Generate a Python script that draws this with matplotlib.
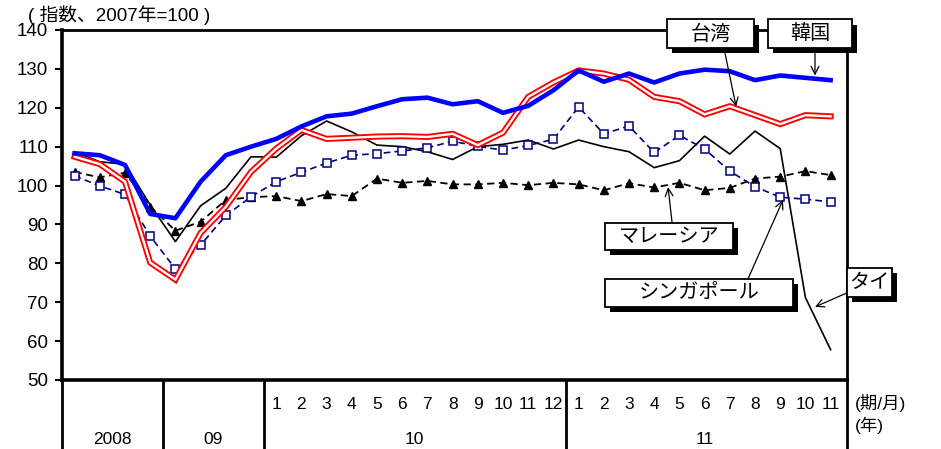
import matplotlib.pyplot as plt
import matplotlib.patches as mpatches

plt.rcParams['font.family'] = ['Liberation Sans', 'Noto Sans CJK JP']

# x positions: 2008 Q1-Q4, 2009 Q1-Q4, 2010 months 1-12, 2011 months 1-11
month_labels = [str(m) for m in range(1, 13)] + [str(m) for m in range(1, 12)]
year_labels = ['2008', '09', '10', '11']

korea = [108.3, 107.8, 105.3, 92.7, 91.6, 101.0, 107.8, 110.0,
         112.0, 115.2, 117.8, 118.5, 120.4, 122.2, 122.6, 120.9, 121.7, 118.7, 120.5, 124.5,
         129.6, 126.7, 128.8, 126.5, 128.8, 129.8, 129.4, 127.1, 128.3, 127.7, 127.1]
taiwan = [107.4, 105.5, 101.0, 80.2, 75.8, 87.8, 94.5, 103.5,
          109.5, 114.3, 112.0, 112.3, 112.6, 112.7, 112.5, 113.3, 110.4, 113.6, 122.8, 126.5,
          129.6, 128.8, 127.2, 122.8, 121.7, 118.3, 120.4, 118.1, 115.8, 118.1, 117.8]
thailand = [108.7, 106.1, 105.5, 95.0, 85.6, 94.8, 99.3, 107.4,
            107.3, 112.8, 116.6, 113.8, 110.4, 110.0, 108.7, 106.7, 110.0, 110.6, 111.7, 109.4,
            111.7, 110.0, 108.7, 104.6, 106.4, 112.7, 108.1, 114.0, 109.5, 71.2, 57.8]
malaysia = [103.5, 102.1, 103.3, 94.6, 88.4, 90.7, 96.3, 97.0,
            97.3, 96.0, 97.8, 97.3, 101.8, 100.7, 101.2, 100.3, 100.3, 100.7, 100.1, 100.7,
            100.3, 98.8, 100.6, 99.5, 100.7, 98.8, 99.4, 101.8, 102.3, 103.7, 102.7]
singapore = [102.5, 99.9, 97.7, 87.0, 78.6, 84.7, 92.3, 97.1,
             101.0, 103.4, 105.8, 107.8, 108.2, 108.9, 109.7, 111.4, 110.1, 109.1, 110.3, 111.9,
             120.2, 113.3, 115.3, 108.5, 112.9, 109.4, 103.7, 99.7, 97.0, 96.5, 95.8]

x = list(range(len(korea)))

fig = plt.figure(figsize=(9.41, 4.49), dpi=100)
ax = fig.add_axes([62 / 941, 69 / 449, 785 / 941, 350 / 449])

# lines
ax.plot(x, thailand, color='black', lw=1.2, zorder=3)
ax.plot(x, malaysia, color='black', lw=1.3, ls=(0, (4, 2.5)), marker='^', ms=6,
        markerfacecolor='black', markeredgecolor='black', zorder=4)
ax.plot(x, singapore, color='#000080', lw=1.2, ls=(0, (4, 2.5)), marker='s', ms=6,
        markerfacecolor='white', markeredgecolor='#000080', markeredgewidth=1.1, zorder=4)
ax.plot(x, taiwan, color='#ff0000', lw=4.4, zorder=5, solid_joinstyle='miter')
ax.plot(x, taiwan, color='white', lw=1.7, zorder=5, solid_joinstyle='miter')
ax.plot(x, korea, color='#0000ff', lw=3.3, zorder=6)

ax.set_xlim(-0.5, 30.65)
ax.set_ylim(50, 140)
ax.set_yticks(range(50, 141, 10))
ax.tick_params(axis='y', direction='out', length=5, width=1.5, labelsize=13.5, pad=5)

ax.set_xticks(range(8, 31))
ax.set_xticklabels(month_labels)
ax.tick_params(axis='x', length=0, labelsize=12.5, pad=12)

ax.spines['left'].set_linewidth(2.6)
ax.spines['bottom'].set_linewidth(2.6)
ax.spines['top'].set_linewidth(2)
ax.spines['right'].set_linewidth(2)

# table lines below the axis
xt = ax.get_xaxis_transform()
for xv in [-0.5, 3.5, 7.5, 19.5, 30.65]:
    ax.plot([xv, xv], [0, -0.2], transform=xt, color='black', lw=2, clip_on=False)

for xv, lab in zip([1.5, 5.5, 13.5, 25.0], year_labels):
    ax.text(xv, -0.171, lab, transform=xt, ha='center', va='center', fontsize=12.5)

ax.text(30.95, -0.066, '(期/月)', transform=xt, ha='left', va='center', fontsize=12.5)
ax.text(30.95, -0.13, '(年)', transform=xt, ha='left', va='center', fontsize=12.5)

fig.text(28 / 941, 1 - 15 / 449, '( 指数、2007年=100 )', ha='left', va='center', fontsize=13.5)


def label_box(x0, x1, y0, y1, text):
    shadow = mpatches.Rectangle((x0 + 0.2, y0 - 1.3), x1 - x0, y1 - y0, facecolor='black',
                                edgecolor='black', lw=0, zorder=10, clip_on=False)
    box = mpatches.Rectangle((x0, y0), x1 - x0, y1 - y0, facecolor='white',
                             edgecolor='black', lw=1.3, zorder=11, clip_on=False)
    ax.add_patch(shadow)
    ax.add_patch(box)
    ax.text((x0 + x1) / 2, (y0 + y1) / 2, text, ha='center', va='center',
            fontsize=14.5, zorder=12, clip_on=False)


label_box(23.51, 26.97, 135.3, 142.7, '台湾')
label_box(27.52, 30.85, 135.3, 142.7, '韓国')
label_box(21.05, 26.13, 83.5, 90.4, 'マレーシア')
label_box(21.05, 28.51, 68.8, 76.0, 'シンガポール')
label_box(30.65, 32.44, 71.4, 78.8, 'タイ')

arrow = dict(arrowstyle='->', color='black', lw=0.9, shrinkA=0, shrinkB=0,
             mutation_scale=14)
ax.annotate('', xy=(26.25, 120.3), xytext=(25.81, 134.0), arrowprops=arrow, zorder=12)
ax.annotate('', xy=(29.38, 128.3), xytext=(29.38, 134.0), arrowprops=arrow, zorder=12)
ax.annotate('', xy=(23.55, 99.6), xytext=(23.71, 90.4), arrowprops=arrow, zorder=12)
ax.annotate('', xy=(28.11, 96.3), xytext=(26.72, 76.0), arrowprops=arrow, zorder=12)
ax.annotate('', xy=(29.38, 68.8), xytext=(30.65, 72.4), arrowprops=arrow, zorder=12,
            annotation_clip=False)

fig.savefig('out.png', dpi=100)
